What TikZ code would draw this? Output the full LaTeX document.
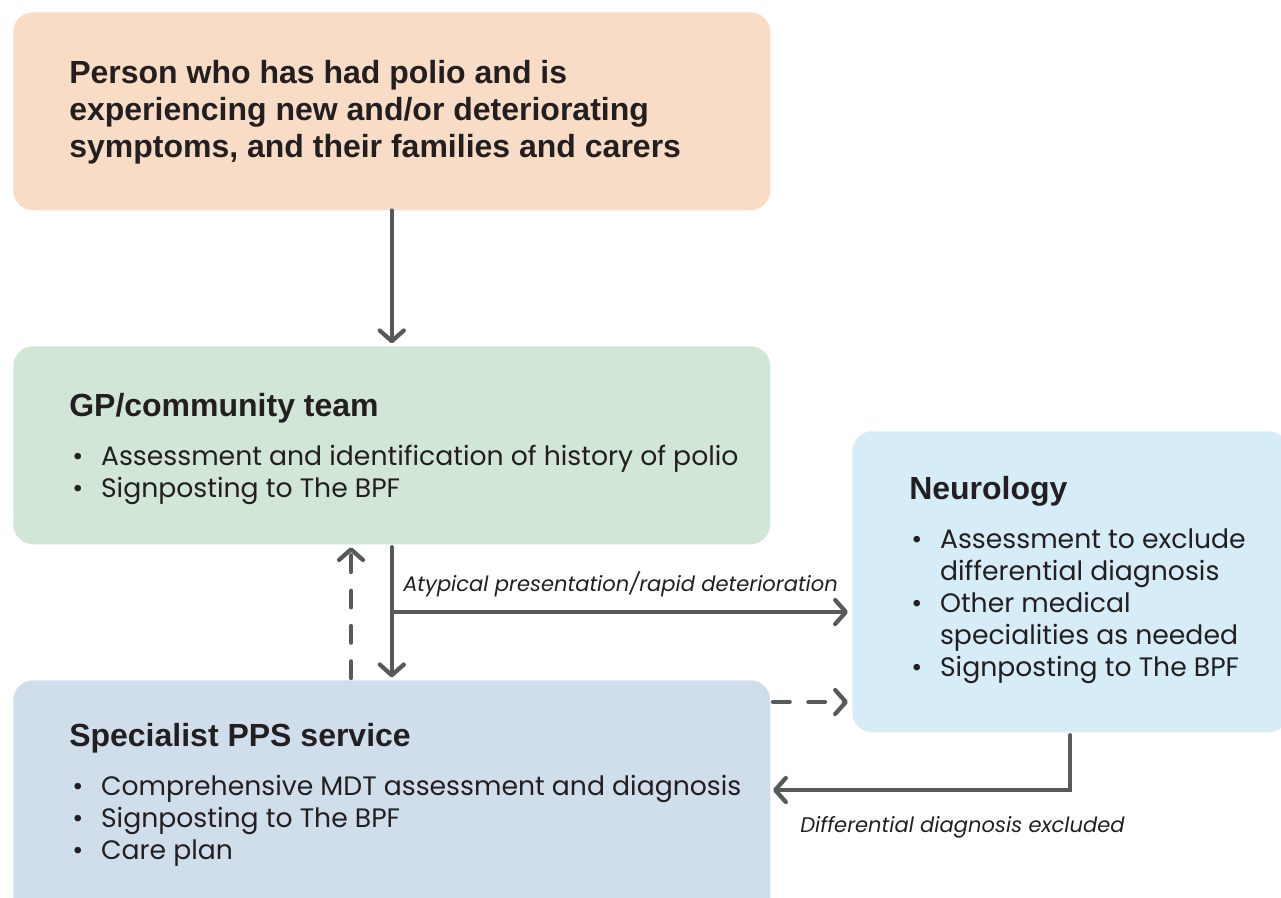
\documentclass[tikz,border=0pt]{standalone}
\usepackage{fontspec}
\setmainfont{Poppins}
\newfontfamily\headfont{Liberation Sans}
\usetikzlibrary{arrows.meta}

\definecolor{peach}{RGB}{248,220,197}
\definecolor{gpgreen}{RGB}{209,230,214}
\definecolor{ppsblue}{RGB}{208,222,235}
\definecolor{neuroblue}{RGB}{214,236,246}
\definecolor{arrowgrey}{RGB}{88,89,91}
\definecolor{inkdark}{RGB}{35,31,32}

\newcommand{\bul}{\makebox[21.6pt][l]{\textbullet}}
\newcommand{\ind}{\hspace*{21.6pt}}
\newcommand{\rows}[1]{\begin{tabular}[t]{@{}l@{}}#1\end{tabular}}

\tikzset{
  box/.style={rounded corners=15pt, draw=none, anchor=north west, inner sep=0pt},
  headtxt/.style={anchor=base west, inner sep=0pt, text=inkdark,
    font=\headfont\bfseries\fontsize{24}{28.1}\selectfont},
  bodytxt/.style={anchor=base west, inner sep=0pt, text=inkdark,
    font=\fontsize{20}{24}\selectfont},
  notetxt/.style={anchor=base west, inner sep=0pt, text=inkdark,
    font=\itshape\fontsize{15.8}{18}\selectfont},
  flow/.style={line width=3.2pt, arrowgrey, line cap=round,
    -{Straight Barb[length=8pt,width=18pt,line cap=round,line join=round]}},
  dashflow/.style={flow, dash pattern=on 12.5pt off 14pt}
}

\begin{document}
\begin{tikzpicture}[x=0.75pt,y=0.75pt,yscale=-1,xscale=1]
\useasboundingbox (0,0) rectangle (1281,897);

%Boxes
\node[box, fill=peach, minimum width=567.75pt, minimum height=148.5pt] (person) at (13,12) {};
\node[box, fill=gpgreen, minimum width=567.75pt, minimum height=148.5pt] (gp) at (13,346) {};
\node[box, fill=ppsblue, minimum width=567.75pt, minimum height=180pt] (pps) at (13,680) {};
\node[box, fill=neuroblue, minimum width=327pt, minimum height=225.75pt] (neuro) at (852,431) {};

%Texts
\node[headtxt] (persontxt) at (69,83) {\rows{Person who has had polio and is\\experiencing new and/or deteriorating\\symptoms, and their families and carers}};

\node[headtxt] (gptitle) at (69,416) {GP/community team};
\node[bodytxt] (gplist) at (72,465) {\rows{\bul Assessment and identification of history of polio\\\bul Signposting to The BPF}};

\node[headtxt] (neurotitle) at (909,499) {Neurology};
\node[bodytxt] (neurolist) at (911,548) {\rows{\bul Assessment to exclude\\\ind differential diagnosis\\\bul Other medical\\\ind specialities as needed\\\bul Signposting to The BPF}};

\node[headtxt] (ppstitle) at (69,746) {Specialist PPS service};
\node[bodytxt] (ppslist) at (72,795) {\rows{\bul Comprehensive MDT assessment and diagnosis\\\bul Signposting to The BPF\\\bul Care plan}};

\node[notetxt] (atypical) at (403,591) {Atypical presentation/rapid deterioration};
\node[notetxt] (excluded) at (800,832) {Differential diagnosis excluded};

%Connectors
\coordinate (split) at (392,612);
\coordinate (dashout) at (773,702);
\coordinate (backin) at (773,790);
\coordinate (dashup) at (351,678);

\draw[flow, shorten >=2pt] (person.south) -- (gp.north);
\draw[flow, shorten <=2pt, shorten >=2pt] (gp.south) -- (pps.north);
\draw[flow, shorten >=3pt] (split) -- (split -| neuro.west);
\draw[dashflow, shorten >=2pt] (dashup) -- (dashup |- gp.south);
\draw[dashflow, shorten >=3pt] (dashout) -- (dashout -| neuro.west);
\draw[flow, shorten <=2pt] (neuro.south) |- (backin);

\end{tikzpicture}
\end{document}
